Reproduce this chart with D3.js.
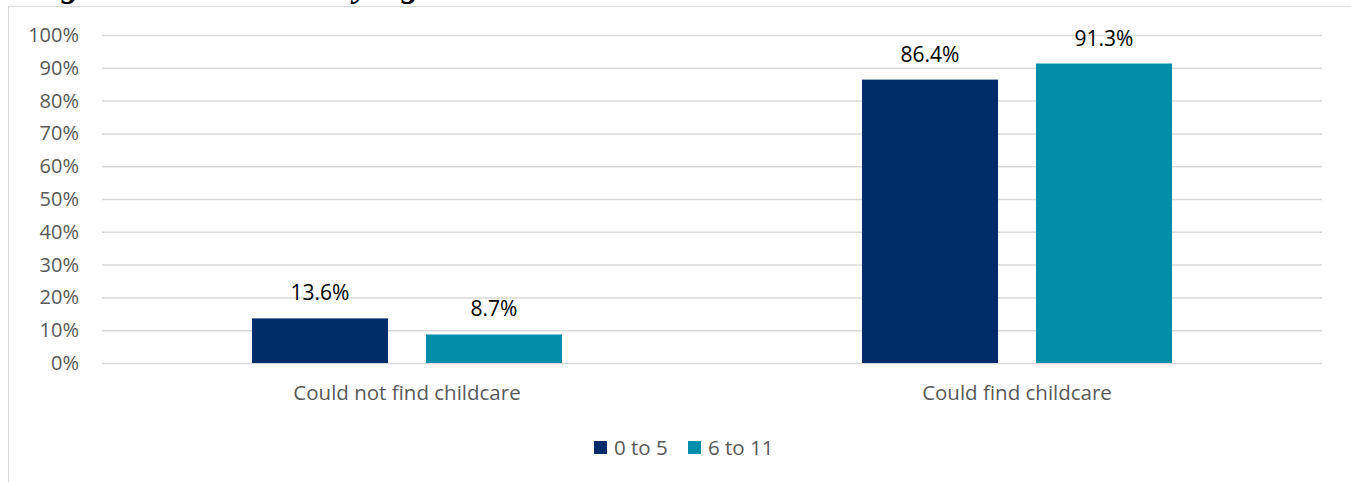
<!DOCTYPE html>
<html>
<head>
<meta charset="utf-8">
<script src="https://cdn.jsdelivr.net/npm/d3@7"></script>
<style>
  html, body { margin: 0; padding: 0; background: #ffffff; }
  svg { display: block; }
</style>
</head>
<body>
<svg id="chart" width="1351" height="482"></svg>
<script>
const titleText = "Figure 5: Childcare by Age";
const categories = ["Could not find childcare", "Could find childcare"];
const seriesNames = ["0 to 5", "6 to 11"];
const values0to5 = [13.6, 86.4];
const values6to11 = [8.7, 91.3];
const yTicks = [0, 10, 20, 30, 40, 50, 60, 70, 80, 90, 100];
const colors = ["#002D6A", "#008EAA"];

const seriesValues = [values0to5, values6to11];
const W = 1351, H = 482;
const svg = d3.select("#chart");
const font = "'Open Sans', 'Noto Sans', sans-serif";

// Frame
svg.append("rect").attr("x", 8.5).attr("y", 6.5).attr("width", W + 10).attr("height", H + 10)
  .attr("fill", "#fff").attr("stroke", "#d9d9d9").attr("stroke-width", 1);

// Clipped title (only descenders visible, as in the reference)
svg.append("text").attr("x", 28).attr("y", -3.5)
  .attr("font-family", "'Liberation Serif', 'DejaVu Serif', serif")
  .attr("font-weight", "bold").attr("font-style", "italic").attr("font-size", 34)
  .attr("letter-spacing", 1).attr("fill", "#000")
  .text(titleText);

const plot = { left: 102, right: 1322, top: 35, bottom: 363 };

const y = d3.scaleLinear().domain([0, 100]).range([plot.bottom, plot.top]);
const x0 = d3.scaleBand().domain(categories).range([plot.left, plot.right]).paddingInner(0).paddingOuter(0);
const x1 = d3.scaleBand().domain(seriesNames).range([150, x0.bandwidth() - 150]).paddingInner(38 / 310 * 2 / (1 + 38 / 310)).paddingOuter(0);

// Gridlines and y labels
const yAxis = d3.axisLeft(y).tickValues(yTicks).tickSize(-(plot.right - plot.left)).tickFormat(d => d + "%");
const gy = svg.append("g").attr("transform", `translate(${plot.left},0)`).call(yAxis);
gy.select(".domain").remove();
gy.selectAll(".tick line").attr("stroke", "#d9d9d9").attr("stroke-width", 1.5);
gy.selectAll(".tick text").attr("x", -23).attr("fill", "#595959")
  .attr("font-family", font).attr("font-size", 20);

// Bars
const groups = svg.append("g").selectAll("g").data(categories).join("g")
  .attr("transform", d => `translate(${x0(d)},0)`);

groups.selectAll("rect").data((d, i) => seriesNames.map((s, j) => ({ s, j, v: seriesValues[j][i] })))
  .join("rect")
  .attr("x", d => x1(d.s)).attr("width", x1.bandwidth())
  .attr("y", d => y(d.v)).attr("height", d => y(0) - y(d.v))
  .attr("fill", d => colors[d.j]);

groups.selectAll("text.val").data((d, i) => seriesNames.map((s, j) => ({ s, j, v: seriesValues[j][i] })))
  .join("text").attr("class", "val")
  .attr("x", d => x1(d.s) + x1.bandwidth() / 2)
  .attr("y", d => y(d.v) - 18)
  .attr("text-anchor", "middle").attr("fill", "#000")
  .attr("font-family", font).attr("font-size", 21)
  .text(d => d.v.toFixed(1) + "%");

// Category labels
const xAxis = d3.axisBottom(x0).tickSize(0).tickPadding(0);
const gx = svg.append("g").attr("transform", `translate(0,${plot.bottom})`).call(xAxis);
gx.select(".domain").remove();
gx.selectAll(".tick text").attr("dy", 0).attr("y", 37).attr("fill", "#595959")
  .attr("font-family", font).attr("font-size", 20.5);

// Legend
const legendX = [594, 688];
const lg = svg.append("g").selectAll("g").data(seriesNames).join("g")
  .attr("transform", (d, i) => `translate(${legendX[i]},441)`);
lg.append("rect").attr("width", 13).attr("height", 13).attr("fill", (d, i) => colors[i]);
lg.append("text").attr("x", 20).attr("y", 13.5).attr("fill", "#595959")
  .attr("font-family", font).attr("font-size", 20.5).text(d => d);
</script>
</body>
</html>
